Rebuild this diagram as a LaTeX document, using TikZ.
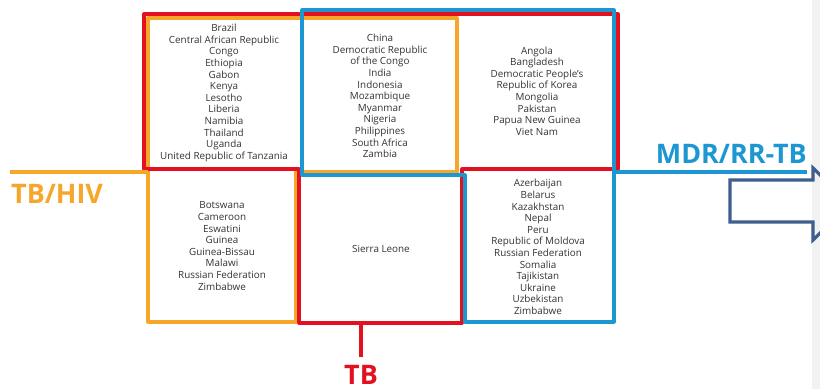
\documentclass[tikz,border=0pt]{standalone}
\usepackage{fontspec}
\setmainfont{Open Sans}
\definecolor{tbred}{HTML}{E3101F}
\definecolor{hivorange}{HTML}{F6A62A}
\definecolor{mdrblue}{HTML}{1C97D2}
\definecolor{arrowblue}{HTML}{3D5E8E}
\definecolor{txtgray}{HTML}{333333}
\begin{document}
\begin{tikzpicture}[x=1bp,y=-1bp,
    cell/.style={align=center,text=txtgray,inner sep=0pt,font=\fontsize{9.9}{11.65}\selectfont},
    frame/.style={line width=3.2bp,line join=round},
    axislabel/.style={inner sep=0pt,font=\fontsize{27}{27}\selectfont\bfseries}]
   \useasboundingbox (0,0) rectangle (820,389);
   \fill[white] (0,0) rectangle (820,389);
   \fill[black!5] (812,0) rectangle (820,389);

   % 枠
   \draw[frame,hivorange] (148,18) -- (457,18) -- (457,172) -- (296,172) -- (296,322) -- (148,322) -- cycle;
   \draw[frame,tbred] (144,14) -- (618,14) -- (618,169) -- (462,169) -- (462,323) -- (299,323) -- (299,169) -- (144,169) -- cycle;
   \draw[frame,mdrblue] (302,10) -- (614,10) -- (614,322) -- (465,322) -- (465,175) -- (302,175) -- cycle;

   % 国名
   \node[cell] (tbhiv) at (224,93) {Brazil\\Central African Republic\\Congo\\Ethiopia\\Gabon\\Kenya\\Lesotho\\Liberia\\Namibia\\Thailand\\Uganda\\United Republic of Tanzania};
   \node[cell] (allthree) at (380,96) {China\\Democratic Republic\\of the Congo\\India\\Indonesia\\Mozambique\\Myanmar\\Nigeria\\Philippines\\South Africa\\Zambia};
   \node[cell] (tbmdr) at (537,91) {Angola\\Bangladesh\\Democratic People's\\Republic of Korea\\Mongolia\\Pakistan\\Papua New Guinea\\Viet Nam};
   \node[cell] (hivonly) at (222,246) {Botswana\\Cameroon\\Eswatini\\Guinea\\Guinea-Bissau\\Malawi\\Russian Federation\\Zimbabwe};
   \node[cell] (tbonly) at (381,249) {Sierra Leone};
   \node[cell] (mdronly) at (538,247) {Azerbaijan\\Belarus\\Kazakhstan\\Nepal\\Peru\\Republic of Moldova\\Russian Federation\\Somalia\\Tajikistan\\Ukraine\\Uzbekistan\\Zimbabwe};

   % 軸ラベル
   \coordinate (hivstart) at (10,172);
   \coordinate (hivend) at (148,172);
   \draw[hivorange,line width=3.2bp] (hivstart) -- (hivend);
   \node[axislabel,text=hivorange,anchor=base west] (hivlabel) at (11,203) {TB/HIV};

   \coordinate (mdrstart) at (614,172);
   \coordinate (mdrend) at (807,172);
   \draw[mdrblue,line width=3.2bp] (mdrstart) -- (mdrend);
   \node[axislabel,text=mdrblue,anchor=base east] (mdrlabel) at (807,163) {MDR/RR-TB};

   \coordinate (tbstart) at (361,323);
   \coordinate (tbend) at (361,357);
   \draw[tbred,line width=3.2bp] (tbstart) -- (tbend);
   \node[axislabel,text=tbred,anchor=base] (tblabel) at (361,384) {TB};

   % 右端の矢印
   \begin{scope}
     \clip (0,0) rectangle (820,389);
     \draw[arrowblue,line width=3.2bp] (730,180) -- (813,180) -- (813,168) -- (850,204) -- (813,240) -- (813,222) -- (730,222) -- cycle;
   \end{scope}
\end{tikzpicture}
\end{document}
